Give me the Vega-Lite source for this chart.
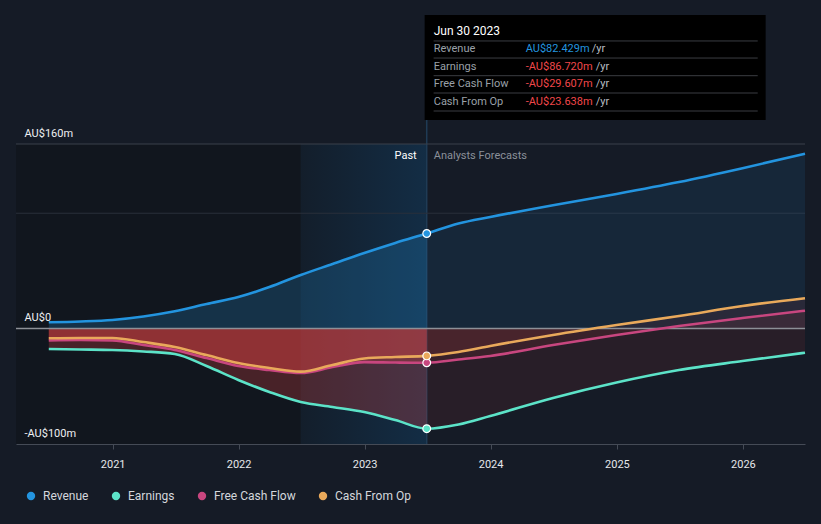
{
  "$schema": "https://vega.github.io/schema/vega-lite/v6.json",
  "width": 789,
  "height": 300,
  "autosize": {"type": "none"},
  "padding": {"left": 16, "top": 144, "right": 16, "bottom": 80},
  "background": "#151b26",
  "config": {
    "view": {"stroke": null},
    "font": "Roboto",
    "text": {"font": "Roboto"}
  },
  "data": {"name": "main"},
  "datasets": {
    "main": [
      {"date": "2020-06-30", "series": "Revenue", "value": 5.5},
      {"date": "2020-09-30", "series": "Revenue", "value": 6.2},
      {"date": "2020-12-31", "series": "Revenue", "value": 7.5},
      {"date": "2021-03-31", "series": "Revenue", "value": 10.5},
      {"date": "2021-06-30", "series": "Revenue", "value": 15},
      {"date": "2021-09-30", "series": "Revenue", "value": 21.3},
      {"date": "2021-12-31", "series": "Revenue", "value": 27.4},
      {"date": "2022-03-31", "series": "Revenue", "value": 36},
      {"date": "2022-06-30", "series": "Revenue", "value": 46.5},
      {"date": "2022-09-30", "series": "Revenue", "value": 56},
      {"date": "2022-12-31", "series": "Revenue", "value": 65.5},
      {"date": "2023-03-31", "series": "Revenue", "value": 74.2},
      {"date": "2023-06-30", "series": "Revenue", "value": 82.429},
      {"date": "2023-09-30", "series": "Revenue", "value": 91},
      {"date": "2023-12-31", "series": "Revenue", "value": 96.7},
      {"date": "2024-06-30", "series": "Revenue", "value": 107},
      {"date": "2024-12-31", "series": "Revenue", "value": 116.7},
      {"date": "2025-06-30", "series": "Revenue", "value": 127},
      {"date": "2025-12-31", "series": "Revenue", "value": 139},
      {"date": "2026-06-30", "series": "Revenue", "value": 151.6},
      {"date": "2020-06-30", "series": "Earnings", "value": -17.7},
      {"date": "2020-09-30", "series": "Earnings", "value": -18.1},
      {"date": "2020-12-31", "series": "Earnings", "value": -18.5},
      {"date": "2021-03-31", "series": "Earnings", "value": -19.8},
      {"date": "2021-06-30", "series": "Earnings", "value": -22},
      {"date": "2021-09-30", "series": "Earnings", "value": -32.4},
      {"date": "2021-12-31", "series": "Earnings", "value": -44.5},
      {"date": "2022-03-31", "series": "Earnings", "value": -54.9},
      {"date": "2022-06-30", "series": "Earnings", "value": -63.6},
      {"date": "2022-09-30", "series": "Earnings", "value": -67.9},
      {"date": "2022-12-31", "series": "Earnings", "value": -72.3},
      {"date": "2023-03-31", "series": "Earnings", "value": -79.2},
      {"date": "2023-06-30", "series": "Earnings", "value": -86.72},
      {"date": "2023-09-30", "series": "Earnings", "value": -83.1},
      {"date": "2023-12-31", "series": "Earnings", "value": -75.7},
      {"date": "2024-06-30", "series": "Earnings", "value": -60.1},
      {"date": "2024-12-31", "series": "Earnings", "value": -46.7},
      {"date": "2025-06-30", "series": "Earnings", "value": -35.9},
      {"date": "2025-12-31", "series": "Earnings", "value": -28.1},
      {"date": "2026-06-30", "series": "Earnings", "value": -20.9},
      {"date": "2020-06-30", "series": "Free Cash Flow", "value": -10.3},
      {"date": "2020-09-30", "series": "Free Cash Flow", "value": -9.9},
      {"date": "2020-12-31", "series": "Free Cash Flow", "value": -10.3},
      {"date": "2021-03-31", "series": "Free Cash Flow", "value": -14.2},
      {"date": "2021-06-30", "series": "Free Cash Flow", "value": -18.5},
      {"date": "2021-09-30", "series": "Free Cash Flow", "value": -25.5},
      {"date": "2021-12-31", "series": "Free Cash Flow", "value": -32.4},
      {"date": "2022-03-31", "series": "Free Cash Flow", "value": -35.9},
      {"date": "2022-06-30", "series": "Free Cash Flow", "value": -38.5},
      {"date": "2022-09-30", "series": "Free Cash Flow", "value": -33.3},
      {"date": "2022-12-31", "series": "Free Cash Flow", "value": -29},
      {"date": "2023-03-31", "series": "Free Cash Flow", "value": -29.4},
      {"date": "2023-06-30", "series": "Free Cash Flow", "value": -29.607},
      {"date": "2023-09-30", "series": "Free Cash Flow", "value": -26.8},
      {"date": "2023-12-31", "series": "Free Cash Flow", "value": -23.7},
      {"date": "2024-06-30", "series": "Free Cash Flow", "value": -14.2},
      {"date": "2024-12-31", "series": "Free Cash Flow", "value": -5.5},
      {"date": "2025-06-30", "series": "Free Cash Flow", "value": 2.3},
      {"date": "2025-12-31", "series": "Free Cash Flow", "value": 9.2},
      {"date": "2026-06-30", "series": "Free Cash Flow", "value": 15.5},
      {"date": "2020-06-30", "series": "Cash From Op", "value": -8.4},
      {"date": "2020-09-30", "series": "Cash From Op", "value": -8.1},
      {"date": "2020-12-31", "series": "Cash From Op", "value": -8.1},
      {"date": "2021-03-31", "series": "Cash From Op", "value": -11.6},
      {"date": "2021-06-30", "series": "Cash From Op", "value": -15.9},
      {"date": "2021-09-30", "series": "Cash From Op", "value": -22.9},
      {"date": "2021-12-31", "series": "Cash From Op", "value": -29.8},
      {"date": "2022-03-31", "series": "Cash From Op", "value": -34.1},
      {"date": "2022-06-30", "series": "Cash From Op", "value": -37.3},
      {"date": "2022-09-30", "series": "Cash From Op", "value": -31.5},
      {"date": "2022-12-31", "series": "Cash From Op", "value": -25.9},
      {"date": "2023-03-31", "series": "Cash From Op", "value": -24.6},
      {"date": "2023-06-30", "series": "Cash From Op", "value": -23.638},
      {"date": "2023-09-30", "series": "Cash From Op", "value": -20.3},
      {"date": "2023-12-31", "series": "Cash From Op", "value": -15.1},
      {"date": "2024-06-30", "series": "Cash From Op", "value": -5.5},
      {"date": "2024-12-31", "series": "Cash From Op", "value": 3.1},
      {"date": "2025-06-30", "series": "Cash From Op", "value": 10.9},
      {"date": "2025-12-31", "series": "Cash From Op", "value": 19.6},
      {"date": "2026-06-30", "series": "Cash From Op", "value": 26.3}
    ],
    "one": [{}]
  },
  "layer": [
    {
      "data": {"name": "one"},
      "mark": {"type": "rect", "color": "#0c0f14", "opacity": 0.4},
      "encoding": {
        "x": {"datum": {"year": 2020, "month": 3, "date": 27}, "type": "temporal"},
        "x2": {"datum": {"year": 2022, "month": 6, "date": 30}},
        "y": {"datum": 160, "type": "quantitative"},
        "y2": {"datum": -100}
      }
    },
    {
      "data": {"name": "one"},
      "mark": {
        "type": "rect",
        "color": {
          "gradient": "linear", "x1": 0, "y1": 0, "x2": 1, "y2": 0,
          "stops": [{"offset": 0, "color": "#131e2b"}, {"offset": 1, "color": "#132d45"}]
        }
      },
      "encoding": {
        "x": {"datum": {"year": 2022, "month": 6, "date": 30}, "type": "temporal"},
        "x2": {"datum": {"year": 2023, "month": 6, "date": 30}},
        "y": {"datum": 160, "type": "quantitative"},
        "y2": {"datum": -100}
      }
    },
    {
      "data": {"name": "one"},
      "mark": {"type": "rule", "color": "#1f3b55", "strokeWidth": 1.5},
      "encoding": {
        "x": {"datum": {"year": 2023, "month": 6, "date": 30}, "type": "temporal"},
        "y": {"datum": 180.8, "type": "quantitative"},
        "y2": {"datum": -100}
      }
    },
    {
      "data": {"name": "one"},
      "mark": {"type": "rule", "color": "#2a303b", "strokeWidth": 1},
      "encoding": {"y": {"datum": 100, "type": "quantitative"}}
    },
    {
      "data": {"name": "one"},
      "mark": {"type": "rule", "color": "#3a404b", "strokeWidth": 1},
      "encoding": {"y": {"datum": 160, "type": "quantitative"}}
    },
    {
      "transform": [{"filter": "datum.series === 'Revenue'"}, {"filter": {"field": "date", "lte": {"year": 2023, "month": 6, "date": 30, "utc": true}}}],
      "mark": {"type": "area", "color": "#2394df", "opacity": 0.22, "interpolate": "monotone"},
      "encoding": {
        "x": {"field": "date", "type": "temporal"},
        "y": {"field": "value", "type": "quantitative", "stack": null},
        "y2": {"datum": 0}
      }
    },
    {
      "transform": [{"filter": "datum.series === 'Revenue'"}, {"filter": {"field": "date", "gte": {"year": 2023, "month": 6, "date": 30, "utc": true}}}],
      "mark": {"type": "area", "color": "#2394df", "opacity": 0.1, "interpolate": "monotone"},
      "encoding": {
        "x": {"field": "date", "type": "temporal"},
        "y": {"field": "value", "type": "quantitative", "stack": null},
        "y2": {"datum": 0}
      }
    },
    {
      "transform": [{"filter": "datum.series !== 'Revenue'"}, {"filter": {"field": "date", "lte": {"year": 2023, "month": 6, "date": 30, "utc": true}}}],
      "mark": {"type": "area", "color": "#e84545", "opacity": 0.26, "interpolate": "monotone"},
      "encoding": {
        "x": {"field": "date", "type": "temporal"},
        "detail": {"field": "series"},
        "y": {"field": "value", "type": "quantitative", "stack": null},
        "y2": {"datum": 0}
      }
    },
    {
      "transform": [{"filter": "datum.series !== 'Revenue'"}, {"filter": {"field": "date", "gte": {"year": 2023, "month": 6, "date": 30, "utc": true}}}],
      "mark": {"type": "area", "color": "#e84545", "opacity": 0.09, "interpolate": "monotone"},
      "encoding": {
        "x": {"field": "date", "type": "temporal"},
        "detail": {"field": "series"},
        "y": {"field": "value", "type": "quantitative", "stack": null},
        "y2": {"datum": 0}
      }
    },
    {
      "data": {"name": "one"},
      "mark": {"type": "rule", "color": "#8d9097", "strokeWidth": 1.5},
      "encoding": {"y": {"datum": 0, "type": "quantitative"}}
    },
    {
      "mark": {"type": "line", "strokeWidth": 2.6, "interpolate": "monotone"},
      "encoding": {
        "x": {
          "field": "date",
          "type": "temporal",
          "scale": {"domain": [{"year": 2020, "month": 3, "date": 27}, {"year": 2026, "month": 6, "date": 30}]},
          "axis": {
            "title": null,
            "values": [{"year": 2021}, {"year": 2022}, {"year": 2023}, {"year": 2024}, {"year": 2025}, {"year": 2026}],
            "format": "%Y",
            "grid": false,
            "zindex": 1,
            "domainColor": "#454b56",
            "tickColor": "#454b56",
            "tickSize": 5,
            "labelColor": "#e6e8eb",
            "labelFontSize": 11,
            "labelPadding": 9,
            "labelFont": "Roboto"
          }
        },
        "y": {
          "field": "value",
          "type": "quantitative",
          "scale": {"domain": [-100, 160], "nice": false, "zero": false},
          "axis": {
            "title": null,
            "values": [-100, 0, 160],
            "labelExpr": "datum.value === 0 ? 'AU$0' : (datum.value < 0 ? '-AU$' + abs(datum.value) + 'm' : 'AU$' + datum.value + 'm')",
            "grid": false,
            "zindex": 1,
            "domain": false,
            "ticks": false,
            "tickSize": 0,
            "labelAlign": "left",
            "labelBaseline": "bottom",
            "labelPadding": -8,
            "labelOffset": -6,
            "labelFlush": false,
            "labelOverlap": false,
            "labelColor": "#eef0f2",
            "labelFontSize": 11,
            "labelFont": "Roboto"
          }
        },
        "color": {
          "field": "series",
          "type": "nominal",
          "scale": {
            "domain": ["Revenue", "Earnings", "Free Cash Flow", "Cash From Op"],
            "range": ["#2394df", "#5ce3c8", "#c8467f", "#e9a95b"]
          },
          "legend": {
            "title": null,
            "orient": "none",
            "direction": "horizontal",
            "legendX": 9,
            "legendY": 346,
            "symbolType": "circle",
            "symbolSize": 70,
            "symbolStrokeWidth": 0,
            "labelColor": "#d4d7dc",
            "labelFontSize": 12,
            "labelFont": "Roboto",
            "labelOffset": 6,
            "columnPadding": 21
          }
        }
      }
    },
    {
      "transform": [{"filter": {"field": "date", "equal": {"year": 2023, "month": 6, "date": 30, "utc": true}}}],
      "mark": {"type": "point", "filled": true, "size": 60, "stroke": "#ffffff", "strokeWidth": 1.2, "opacity": 1},
      "encoding": {
        "x": {"field": "date", "type": "temporal"},
        "y": {"field": "value", "type": "quantitative"},
        "color": {"field": "series", "type": "nominal"}
      }
    },
    {
      "data": {"name": "one"},
      "mark": {"type": "text", "text": "Past", "align": "right", "baseline": "middle", "dx": -10, "color": "#ffffff", "fontSize": 11},
      "encoding": {
        "x": {"datum": {"year": 2023, "month": 6, "date": 30}, "type": "temporal"},
        "y": {"datum": 149.8, "type": "quantitative"}
      }
    },
    {
      "data": {"name": "one"},
      "mark": {"type": "text", "text": "Analysts Forecasts", "align": "left", "baseline": "middle", "dx": 7, "color": "#8b9099", "fontSize": 11},
      "encoding": {
        "x": {"datum": {"year": 2023, "month": 6, "date": 30}, "type": "temporal"},
        "y": {"datum": 149.8, "type": "quantitative"}
      }
    },
    {
      "data": {"name": "one"},
      "mark": {"type": "rect", "color": "#000000"},
      "encoding": {
        "x": {"datum": {"year": 2023, "month": 6, "date": 24}, "type": "temporal"},
        "x2": {"datum": {"year": 2026, "month": 3, "date": 8}},
        "y": {"datum": 271.8, "type": "quantitative"},
        "y2": {"datum": 180.8}
      }
    },
    {
      "data": {"name": "one"},
      "mark": {"type": "rule", "color": "#3a3d42", "strokeWidth": 1},
      "encoding": {
        "x": {"datum": {"year": 2023, "month": 7, "date": 20}, "type": "temporal"},
        "x2": {"datum": {"year": 2026, "month": 2, "date": 13}},
        "y": {"datum": 249.3, "type": "quantitative"}
      }
    },
    {
      "data": {"name": "one"},
      "mark": {"type": "rule", "color": "#3a3d42", "strokeWidth": 1},
      "encoding": {
        "x": {"datum": {"year": 2023, "month": 7, "date": 20}, "type": "temporal"},
        "x2": {"datum": {"year": 2026, "month": 2, "date": 13}},
        "y": {"datum": 234.5, "type": "quantitative"}
      }
    },
    {
      "data": {"name": "one"},
      "mark": {"type": "rule", "color": "#3a3d42", "strokeWidth": 1},
      "encoding": {
        "x": {"datum": {"year": 2023, "month": 7, "date": 20}, "type": "temporal"},
        "x2": {"datum": {"year": 2026, "month": 2, "date": 13}},
        "y": {"datum": 219.2, "type": "quantitative"}
      }
    },
    {
      "data": {"name": "one"},
      "mark": {"type": "rule", "color": "#3a3d42", "strokeWidth": 1},
      "encoding": {
        "x": {"datum": {"year": 2023, "month": 7, "date": 20}, "type": "temporal"},
        "x2": {"datum": {"year": 2026, "month": 2, "date": 13}},
        "y": {"datum": 204.2, "type": "quantitative"}
      }
    },
    {
      "data": {"name": "one"},
      "mark": {"type": "rule", "color": "#3a3d42", "strokeWidth": 1},
      "encoding": {
        "x": {"datum": {"year": 2023, "month": 7, "date": 20}, "type": "temporal"},
        "x2": {"datum": {"year": 2026, "month": 2, "date": 13}},
        "y": {"datum": 188.6, "type": "quantitative"}
      }
    },
    {
      "data": {"name": "one"},
      "mark": {"type": "text", "text": "Jun 30 2023", "align": "left", "baseline": "middle", "dx": 7, "color": "#ffffff", "fontSize": 12},
      "encoding": {
        "x": {"datum": {"year": 2023, "month": 6, "date": 30}, "type": "temporal"},
        "y": {"datum": 257.9, "type": "quantitative"}
      }
    },
    {
      "data": {"name": "one"},
      "mark": {"type": "text", "text": ["Revenue", "Earnings", "Free Cash Flow", "Cash From Op"], "lineHeight": 17.5, "align": "left", "baseline": "middle", "dx": 7, "color": "#9aa0a8", "fontSize": 11},
      "encoding": {
        "x": {"datum": {"year": 2023, "month": 6, "date": 30}, "type": "temporal"},
        "y": {"datum": 242.1, "type": "quantitative"}
      }
    },
    {
      "data": {"name": "one"},
      "mark": {"type": "text", "text": "AU$82.429m", "align": "left", "baseline": "middle", "dx": 99, "color": "#2394df", "fontSize": 11},
      "encoding": {
        "x": {"datum": {"year": 2023, "month": 6, "date": 30}, "type": "temporal"},
        "y": {"datum": 242.1, "type": "quantitative"}
      }
    },
    {
      "data": {"name": "one"},
      "mark": {"type": "text", "text": ["-AU$86.720m", "-AU$29.607m", "-AU$23.638m"], "lineHeight": 17.5, "align": "left", "baseline": "middle", "dx": 99, "color": "#f0474a", "fontSize": 11},
      "encoding": {
        "x": {"datum": {"year": 2023, "month": 6, "date": 30}, "type": "temporal"},
        "y": {"datum": 227.0, "type": "quantitative"}
      }
    },
    {
      "data": {"name": "one"},
      "mark": {"type": "text", "text": "/yr", "align": "left", "baseline": "middle", "dx": 165, "color": "#b8bcc2", "fontSize": 11},
      "encoding": {
        "x": {"datum": {"year": 2023, "month": 6, "date": 30}, "type": "temporal"},
        "y": {"datum": 242.1, "type": "quantitative"}
      }
    },
    {
      "data": {"name": "one"},
      "mark": {"type": "text", "text": ["/yr", "/yr", "/yr"], "lineHeight": 17.5, "align": "left", "baseline": "middle", "dx": 169, "color": "#b8bcc2", "fontSize": 11},
      "encoding": {
        "x": {"datum": {"year": 2023, "month": 6, "date": 30}, "type": "temporal"},
        "y": {"datum": 227.0, "type": "quantitative"}
      }
    }
  ]
}
